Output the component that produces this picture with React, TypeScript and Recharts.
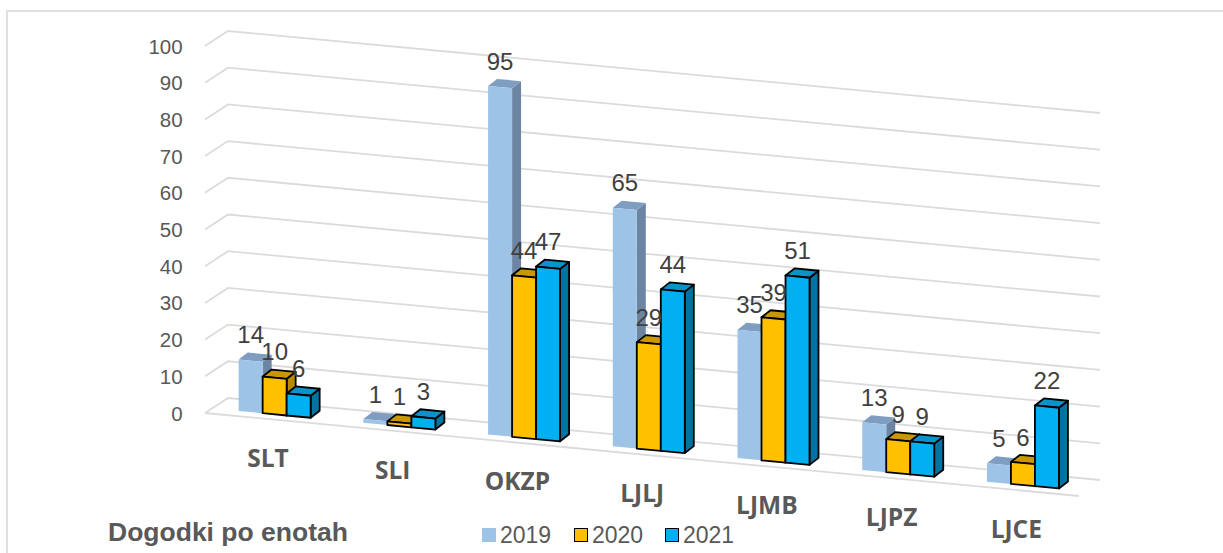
import React from 'react';
import { Bar, BarChart, CartesianGrid, LabelList, Legend, XAxis, YAxis } from 'recharts';

const units = ['SLT', 'SLI', 'OKZP', 'LJLJ', 'LJMB', 'LJPZ', 'LJCE'];
const events2019 = [14, 1, 95, 65, 35, 13, 5];
const events2020 = [10, 1, 44, 29, 39, 9, 6];
const events2021 = [6, 3, 47, 44, 51, 9, 22];
const valueTicks = [0, 10, 20, 30, 40, 50, 60, 70, 80, 90, 100];

const data = units.map((unit, i) => ({
  unit,
  y2019: events2019[i],
  y2020: events2020[i],
  y2021: events2021[i],
}));

// Fake 3D: everything drifts downwards to the right along the floor
const SLOPE = 0.0945;
const PLOT_LEFT = 212.65;
const PLOT_WIDTH = 873;
const PLOT_TOP = 41.5;
const PLOT_BOTTOM = 408.5;
const DEPTH_X = 9;
const DEPTH_Y = 7;

const drift = (x: number) => (x - PLOT_LEFT) * SLOPE;
const pts = (list: number[][]) => list.map((p) => p.join(',')).join(' ');

const makeBar3D = (front: string, top: string, side: string, outlined: boolean) => (props: any) => {
  const { x, y, width, height } = props;
  const r = x + width;
  const topL = y + drift(x);
  const topR = y + drift(r);
  const baseL = y + height + drift(x);
  const baseR = y + height + drift(r);
  const line = outlined
    ? { stroke: '#000', strokeWidth: 1.8, strokeLinejoin: 'round' as const }
    : {};
  return (
    <g>
      <polygon points={pts([[r, topR], [r + DEPTH_X, topR - DEPTH_Y], [r + DEPTH_X, baseR - DEPTH_Y], [r, baseR]])} fill={side} {...line} />
      <polygon points={pts([[x, topL], [x + DEPTH_X, topL - DEPTH_Y], [r + DEPTH_X, topR - DEPTH_Y], [r, topR]])} fill={top} {...line} />
      <polygon points={pts([[x, topL], [r, topR], [r, baseR], [x, baseL]])} fill={front} {...line} />
    </g>
  );
};

const GridLine = (props: any) => {
  const y = props.y1;
  const isFloor = Math.abs(y - PLOT_BOTTOM) < 1;
  return (
    <g fill="none" stroke="#DBDBDB" strokeWidth={1.8}>
      <polyline points={pts([[205, y + 4.5], [228, y - 10.5], [1100, y + 71.5]])} />
      {isFloor && <line x1={205} y1={y + 4.5} x2={1079} y2={y + 87.5} />}
    </g>
  );
};

const ValueTick = ({ x, y, payload }: any) => (
  <text x={x} y={y + 12} textAnchor="end" fontSize={20.5} fill="#595959" fontFamily="Liberation Sans">
    {payload.value}
  </text>
);

const UnitTick = ({ x, payload }: any) => (
  <text
    x={x - 7}
    y={461 + drift(x)}
    textAnchor="middle"
    fontSize={24.5}
    fontWeight={700}
    fill="#595959"
    fontFamily="Open Sans"
  >
    {payload.value}
  </text>
);

const ValueLabel = ({ x, y, width, value }: any) => {
  const cx = x + width / 2;
  return (
    <text x={cx} y={y + drift(cx) - 17.5} textAnchor="middle" fontSize={24} fill="#404040" fontFamily="Liberation Sans">
      {value}
    </text>
  );
};

const YearLegend = ({ payload }: any) => (
  <div style={{ display: 'flex', fontFamily: 'Liberation Sans', fontSize: 23, color: '#595959', lineHeight: '26px' }}>
    {(payload || []).map((item: any, i: number) => (
      <div key={item.value} style={{ width: i === 0 ? 92 : 91, display: 'flex', alignItems: 'center' }}>
        <span
          style={{
            display: 'inline-block',
            boxSizing: 'border-box',
            width: 14,
            height: 14,
            marginRight: 4,
            background: item.color,
            border: i === 0 ? 'none' : '1.5px solid #000',
          }}
        />
        {item.value}
      </div>
    ))}
  </div>
);

export default function App() {
  return (
    <div style={{ position: 'absolute', left: 0, top: 0, width: 1223, height: 553, background: '#fff', overflow: 'hidden' }}>
      <div
        style={{
          position: 'absolute',
          left: 6,
          top: 10,
          right: 0,
          bottom: 0,
          borderTop: '2px solid #DFDFDF',
          borderLeft: '2px solid #DFDFDF',
        }}
      />
      <div
        style={{
          position: 'absolute',
          left: 108,
          top: 517,
          fontFamily: 'Liberation Sans',
          fontWeight: 700,
          fontSize: 26.5,
          color: '#595959',
          whiteSpace: 'nowrap',
        }}
      >
        Dogodki po enotah
      </div>
      <div style={{ position: 'absolute', left: 0, top: 0 }}>
        <BarChart
          width={1223}
          height={553}
          data={data}
          barSize={24}
          barGap={0}
          margin={{ top: PLOT_TOP, left: 0, right: 1223 - PLOT_LEFT - PLOT_WIDTH, bottom: 553 - PLOT_BOTTOM - 30 }}
        >
          <CartesianGrid vertical={false} horizontal={GridLine} />
          <XAxis dataKey="unit" height={30} interval={0} axisLine={false} tickLine={false} tick={UnitTick} />
          <YAxis
            width={PLOT_LEFT}
            domain={[0, 100]}
            ticks={valueTicks}
            interval={0}
            axisLine={false}
            tickLine={false}
            tickSize={0}
            tickMargin={30}
            tick={ValueTick}
          />
          <Legend
            layout="horizontal"
            align="center"
            verticalAlign="middle"
            content={YearLegend}
            wrapperStyle={{ position: 'absolute', left: 482, top: 522, width: 300, height: 26 }}
          />
          <Bar dataKey="y2019" name="2019" fill="#9DC3E6" isAnimationActive={false} shape={makeBar3D('#9DC3E6', '#7E9DC1', '#6C85A3', false)}>
            <LabelList dataKey="y2019" content={ValueLabel} />
          </Bar>
          <Bar dataKey="y2020" name="2020" fill="#FFC000" isAnimationActive={false} shape={makeBar3D('#FFC000', '#C99700', '#B88A00', true)}>
            <LabelList dataKey="y2020" content={ValueLabel} />
          </Bar>
          <Bar dataKey="y2021" name="2021" fill="#00B0F0" isAnimationActive={false} shape={makeBar3D('#00B0F0', '#0A93C9', '#0073A0', true)}>
            <LabelList dataKey="y2021" content={ValueLabel} />
          </Bar>
        </BarChart>
      </div>
    </div>
  );
}
